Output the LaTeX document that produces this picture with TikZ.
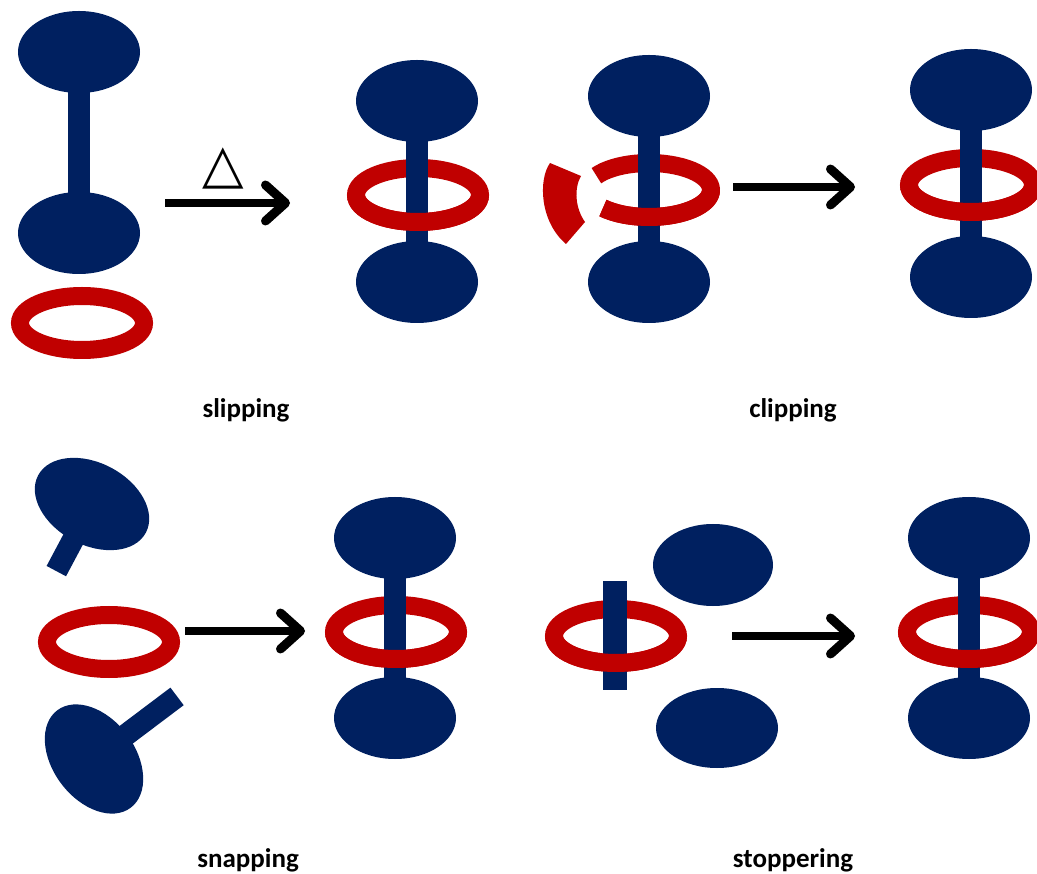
\documentclass[tikz,border=0pt]{standalone}
\usepackage{fontspec}
\setmainfont{Carlito}
\newfontfamily\symfont{DejaVu Sans}
\usetikzlibrary{arrows.meta}
\definecolor{navy}{HTML}{002060}
\definecolor{ringred}{HTML}{C00000}
\tikzset{
  head/.style={fill=navy},
  axle/.style={fill=navy},
  ring/.style={draw=ringred, line width=18pt},
  reaction/.style={line width=8pt, -{Straight Barb[round, length=20pt, width=36pt, line width=9pt]}},
  caption/.style={font=\fontsize{27}{27}\selectfont\bfseries, inner sep=0pt},
}
% dumbbell: x, y of upper stopper, y of lower stopper
\newcommand\dumbbellat[3]{%
  \fill[head] (#1,#2) ellipse [x radius=61, y radius=41];
  \fill[head] (#1,#3) ellipse [x radius=61, y radius=41];
  \fill[axle] ({#1-11},#2) rectangle ({#1+11},#3);
}
% full ring and its front half (drawn again over the axle)
\newcommand\ringat[2]{\draw[ring] (#1,#2) ellipse [x radius=62, y radius=27];}
\newcommand\ringfrontat[2]{\draw[ring] ({#1+62},#2) arc [start angle=0, end angle=180, x radius=62, y radius=27];}
\begin{document}
\begin{tikzpicture}[x=1pt, y=-1pt]
\useasboundingbox (0,0) rectangle (1037,874);

% ---- slipping ----
\dumbbellat{79}{52}{233}
\ringat{82}{323}
\coordinate (slipA) at (165,203);
\coordinate (slipB) at (290,203);
\draw[reaction] (slipA) -- (slipB);
\node[font=\symfont\fontsize{54}{54}\selectfont, inner sep=0pt] (heat) at (223,168) {△};
\ringat{418}{195}
\dumbbellat{417}{101}{282}
\ringfrontat{418}{195}
\node[caption] (labslip) at (246,410) {slipping};

% ---- clipping ----
\draw[ring] ([shift={(-148:62 and 27)}]649,190) arc [start angle=-148, end angle=138, x radius=62, y radius=27];
\dumbbellat{649}{96}{282}
\draw[ring] (711,190) arc [start angle=0, end angle=138, x radius=62, y radius=27];
\fill[ringred] (550,163) .. controls (538,180) and (540,222) .. (566,244)
  -- (585,222) .. controls (575,208) and (574,188) .. (581,176) -- cycle;
\coordinate (clipA) at (733,187);
\coordinate (clipB) at (855,187);
\draw[reaction] (clipA) -- (clipB);
\ringat{971}{185}
\dumbbellat{971}{90}{277}
\ringfrontat{971}{185}
\node[caption] (labclip) at (793,410) {clipping};

% ---- snapping ----
\begin{scope}[shift={(92,504)}, rotate=-28]
  \fill[head] (0,0) ellipse [x radius=61, y radius=41];
  \fill[axle] (-11,0) rectangle (11,76);
\end{scope}
\begin{scope}[shift={(94,759)}, rotate=-53]
  \fill[head] (0,0) ellipse [x radius=61, y radius=41];
  \fill[axle] (-11,0) rectangle (11,-104);
\end{scope}
\ringat{109}{642}
\coordinate (snapA) at (185,631);
\coordinate (snapB) at (305,631);
\draw[reaction] (snapA) -- (snapB);
\ringat{396}{632}
\dumbbellat{395}{538}{718}
\ringfrontat{396}{632}
\node[caption] (labsnap) at (248,860) {snapping};

% ---- stoppering ----
\ringat{616}{636}
\fill[axle] (603,581) rectangle (627,690);
\ringfrontat{616}{636}
\fill[head] (713,565) ellipse [x radius=60, y radius=41];
\fill[head] (717,728) ellipse [x radius=61, y radius=40];
\coordinate (stopA) at (732,636);
\coordinate (stopB) at (855,636);
\draw[reaction] (stopA) -- (stopB);
\ringat{969}{632}
\dumbbellat{969}{538}{718}
\ringfrontat{969}{632}
\node[caption] (labstop) at (793,860) {stoppering};
\end{tikzpicture}
\end{document}
